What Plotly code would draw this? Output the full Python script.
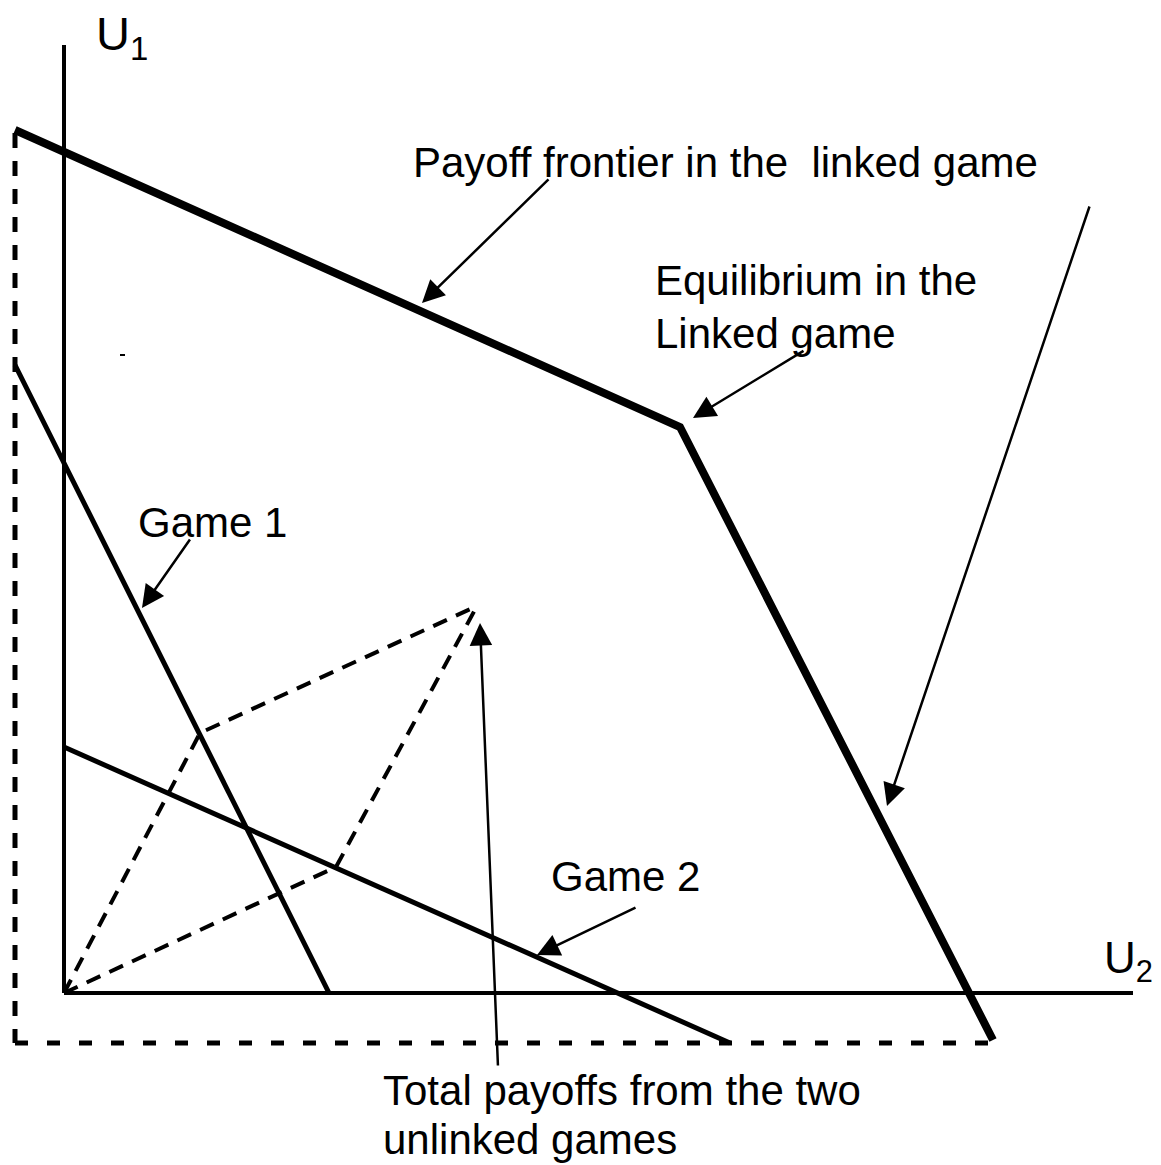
import plotly.graph_objects as go

# Diagram coordinates: U2 on horizontal axis, U1 on vertical axis (origin at 0,0)
axis_u1_u2 = [0.0, 0.0]
axis_u1_u1 = [0.0, 9.48]
axis_u2_u2 = [0.0, 10.69]
axis_u2_u1 = [0.0, 0.0]

frontier_u2 = [-0.49, 6.16, 9.29]
frontier_u1 = [8.63, 5.66, -0.47]

box_v_u2 = [-0.49, -0.49]
box_v_u1 = [8.60, -0.50]
box_h_u2 = [-0.49, 9.29]
box_h_u1 = [-0.50, -0.50]

game1_u2 = [-0.49, 2.65]
game1_u1 = [6.28, 0.0]

game2_u2 = [0.0, 6.66]
game2_u1 = [2.46, -0.50]

# Parallelogram: origin -> game1 point -> total ; origin -> game2 point -> total
path_a_u2 = [0.0, 1.36, 4.13]
path_a_u1 = [0.0, 2.60, 3.87]
path_b_u2 = [0.0, 2.72, 4.13]
path_b_u1 = [0.0, 1.26, 3.87]

speck_u2 = [0.56, 0.61]
speck_u1 = [6.38, 6.38]

# Arrows: tail -> tip
arrow_tail_u2 = [4.86, 7.41, 10.26, 1.27, 5.73, 4.34]
arrow_tail_u1 = [8.15, 6.43, 7.88, 4.55, 0.86, -0.74]
arrow_tip_u2 = [3.58, 6.29, 8.23, 0.78, 4.73, 4.16]
arrow_tip_u1 = [6.90, 5.75, 1.87, 3.85, 0.38, 3.70]

labels = ["Payoff frontier in the  linked game",
          "Equilibrium in the",
          "Linked game",
          "Game 1",
          "Game 2",
          "Total payoffs from the two",
          "unlinked games"]
label_u2 = [3.47, 5.89, 5.89, 0.72, 4.85, 3.17, 3.17]
label_u1 = [8.31, 7.13, 6.60, 4.71, 1.17, -0.97, -1.46]

FONT = "Arial, Liberation Sans, sans-serif"

fig = go.Figure()

def add_line(xs, ys, width, dash="solid"):
    fig.add_trace(go.Scatter(x=xs, y=ys, mode="lines",
                             line=dict(color="black", width=width, dash=dash),
                             hoverinfo="skip", showlegend=False))

add_line(box_v_u2, box_v_u1, 5, "15px,13px")
add_line(box_h_u2, box_h_u1, 5, "13px,19px")
add_line(path_a_u2, path_a_u1, 4, "15px,10px")
add_line(path_b_u2, path_b_u1, 4, "15px,10px")
add_line(axis_u1_u2, axis_u1_u1, 4)
add_line(axis_u2_u2, axis_u2_u1, 4)
add_line(game1_u2, game1_u1, 5)
add_line(game2_u2, game2_u1, 5)
add_line(frontier_u2, frontier_u1, 8)
add_line(speck_u2, speck_u1, 2)

for tx, ty, hx, hy in zip(arrow_tail_u2, arrow_tail_u1, arrow_tip_u2, arrow_tip_u1):
    fig.add_annotation(x=hx, y=hy, ax=tx, ay=ty, xref="x", yref="y",
                       axref="x", ayref="y", text="", showarrow=True,
                       arrowhead=2, arrowsize=1.8, arrowwidth=2.5,
                       arrowcolor="black")

for t, x, y in zip(labels, label_u2, label_u1):
    fig.add_annotation(x=x, y=y, xref="x", yref="y", text=t, showarrow=False,
                       xanchor="left", yanchor="middle", align="left",
                       font=dict(family=FONT, size=42, color="black"))

fig.add_annotation(x=0.30, y=9.56, xref="x", yref="y", text="U<sub>1</sub>",
                   showarrow=False, xanchor="left", yanchor="middle",
                   font=dict(family=FONT, size=47, color="black"))
fig.add_annotation(x=10.38, y=0.32, xref="x", yref="y", text="U<sub>2</sub>",
                   showarrow=False, xanchor="left", yanchor="middle",
                   font=dict(family=FONT, size=44, color="black"))

# Page body has an 8px margin; figure fills the remaining area
fig.update_layout(
    width=1153, height=1157,
    margin=dict(l=0, r=0, t=0, b=0),
    paper_bgcolor="white", plot_bgcolor="white",
    xaxis=dict(range=[-0.56, 10.97], visible=False, fixedrange=True),
    yaxis=dict(range=[-1.72, 9.85], visible=False, fixedrange=True),
    showlegend=False,
)

fig.write_html("out.html")
